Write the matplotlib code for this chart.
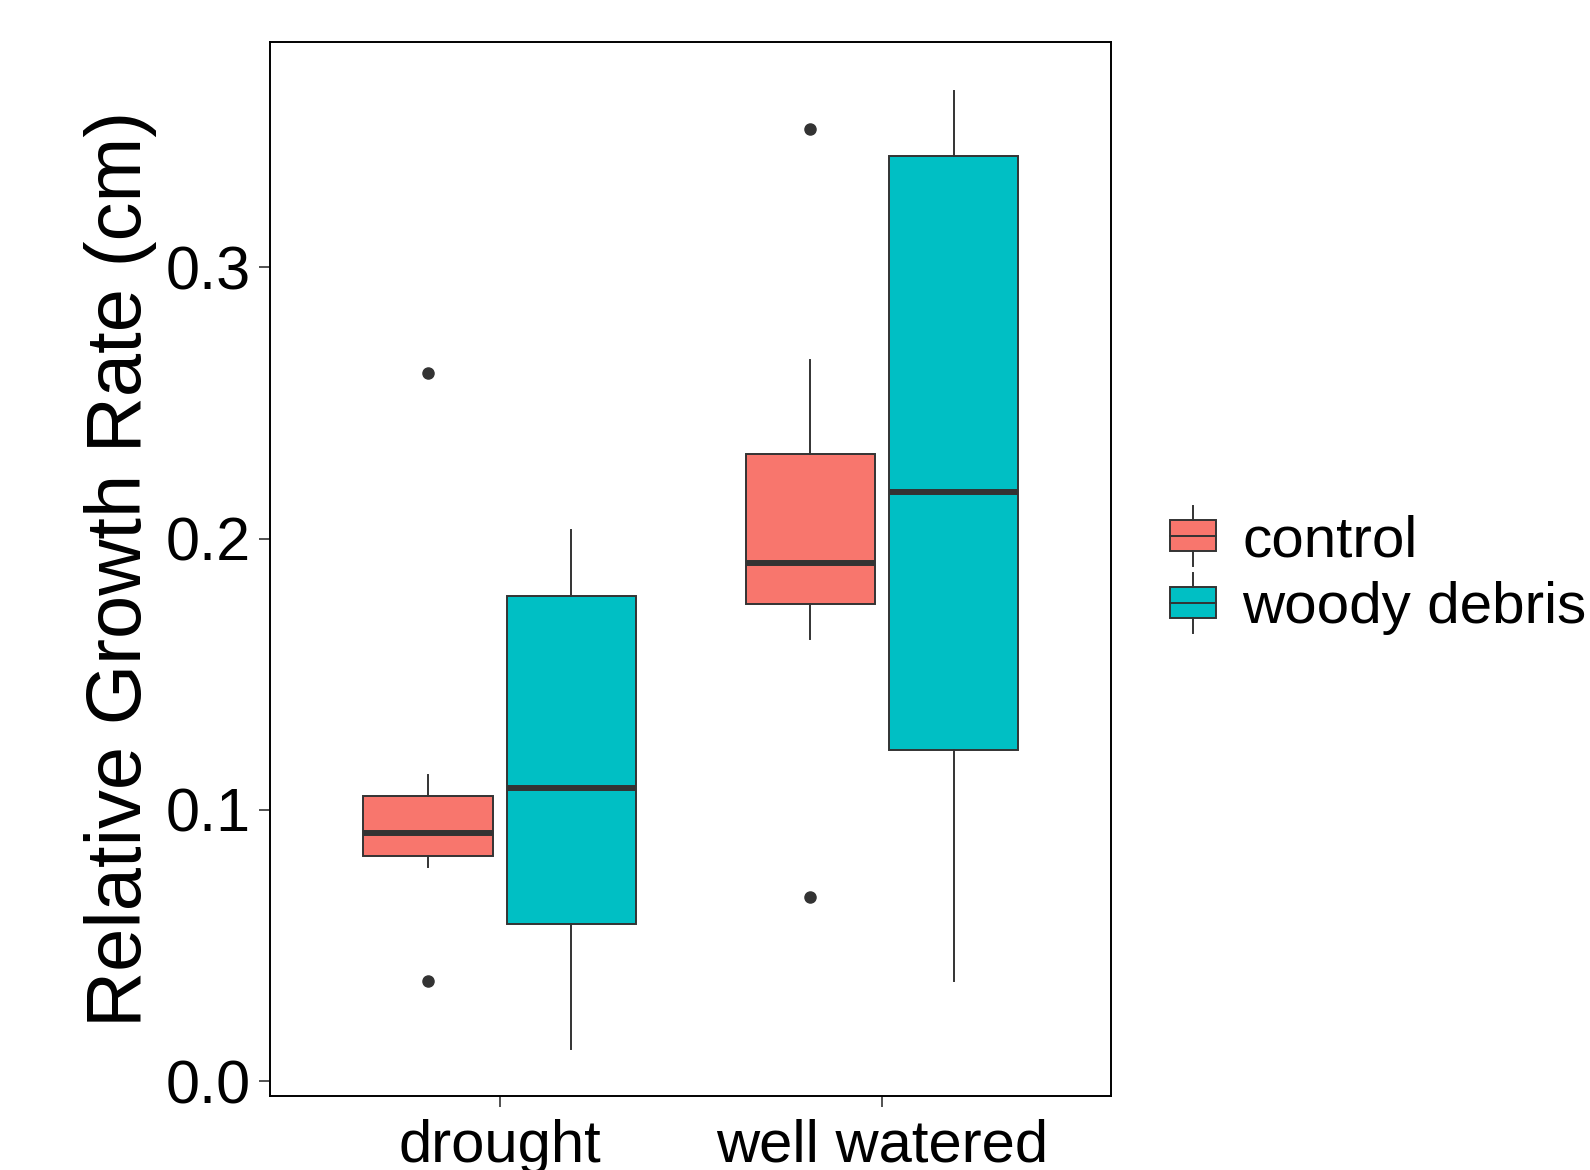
import matplotlib
matplotlib.use("Agg")
import matplotlib.pyplot as plt
from matplotlib.legend_handler import HandlerBase
from matplotlib.patches import Rectangle, Patch
from matplotlib.lines import Line2D

plt.rcParams['font.family'] = ['Liberation Sans', 'DejaVu Sans']

categories = ['drought', 'well watered']
groups = ['control', 'woody debris']
colors = ['#F8766D', '#00BFC4']

# box stats: (whislo, q1, med, q3, whishi)
control_stats = [(0.079, 0.083, 0.0915, 0.105, 0.113),
                 (0.163, 0.176, 0.191, 0.231, 0.266)]
woody_stats = [(0.012, 0.058, 0.108, 0.179, 0.203),
               (0.037, 0.122, 0.217, 0.341, 0.365)]
control_fliers = [[0.261, 0.037], [0.351, 0.068]]
woody_fliers = [[], []]

edge = '#333333'


def make_stats(rows, fliers):
    out = []
    for (lo, q1, med, q3, hi), fl in zip(rows, fliers):
        out.append(dict(whislo=lo, q1=q1, med=med, q3=q3, whishi=hi, fliers=fl))
    return out


class BoxKey(HandlerBase):
    def create_artists(self, legend, orig_handle, xd, yd, width, height, fontsize, trans):
        cx = -xd + width / 2
        cy = -yd + height / 2
        bw, bh = width, height * 0.7
        rect = Rectangle((cx - bw / 2, cy - bh / 2), bw, bh, facecolor=orig_handle.get_facecolor(),
                         edgecolor=edge, linewidth=1.4, transform=trans)
        med = Line2D([cx - bw / 2, cx + bw / 2], [cy, cy], color=edge, lw=1.4, transform=trans)
        w1 = Line2D([cx, cx], [cy + bh / 2, cy + height * 0.68], color=edge, lw=1.4, transform=trans)
        w2 = Line2D([cx, cx], [cy - bh / 2, cy - height * 0.68], color=edge, lw=1.4, transform=trans)
        return [rect, med, w1, w2]


fig = plt.figure(figsize=(15.9, 11.7), dpi=100)
ax = fig.add_axes([0.170, 0.063, 0.529, 0.901])

width = 0.75 * 0.9 / 2
offsets = [-0.1875, 0.1875]
for stats_rows, fliers, off, col in zip([control_stats, woody_stats], [control_fliers, woody_fliers],
                                         offsets, colors):
    pos = [i + 1 + off for i in range(len(categories))]
    ax.bxp(make_stats(stats_rows, fliers), positions=pos, widths=width, patch_artist=True,
           showcaps=False,
           boxprops=dict(facecolor=col, edgecolor=edge, linewidth=1.4),
           medianprops=dict(color=edge, linewidth=4.3, solid_capstyle='butt'),
           whiskerprops=dict(color=edge, linewidth=1.4),
           flierprops=dict(marker='o', markerfacecolor=edge, markeredgecolor=edge, markersize=8))

ax.set_xlim(0.4, 2.6)
ax.set_ylim(-0.0056, 0.383)
ax.set_xticks([1, 2])
ax.set_xticklabels(categories)
ax.set_yticks([0.0, 0.1, 0.2, 0.3])
ax.set_yticklabels(['0.0', '0.1', '0.2', '0.3'])
ax.tick_params(axis='y', labelsize=44, length=8, width=1.2, color='#333333', pad=6, labelcolor='black')
ax.tick_params(axis='x', labelsize=43, length=8, width=1.2, color='#333333', pad=8, labelcolor='black')
for s in ax.spines.values():
    s.set_linewidth(1.4)
    s.set_color('black')
ax.set_ylabel('Relative Growth Rate (cm)', fontsize=56, labelpad=6)

handles = [Patch(facecolor=c, edgecolor=edge) for c in colors]
fig.legend(handles, groups, handler_map={Patch: BoxKey()}, loc='center left',
           bbox_to_anchor=(0.703, 0.509), frameon=False, fontsize=42,
           handlelength=0.78, handleheight=0.78, handletextpad=0.45, labelspacing=0.22)

fig.savefig('out.png', dpi=100)
